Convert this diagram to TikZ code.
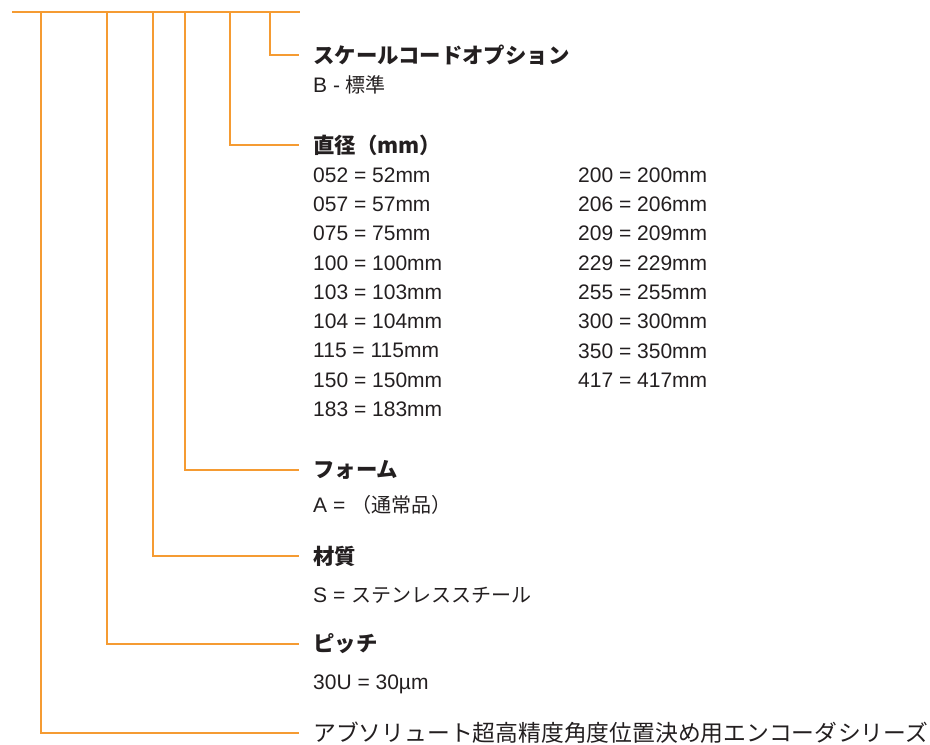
\documentclass[tikz,border=0pt]{standalone}
\usepackage{fontspec}
\setmainfont{Liberation Sans}
\newfontfamily\jp{Noto Sans CJK JP}
\definecolor{lineor}{RGB}{245,155,50}
\definecolor{txt}{RGB}{35,31,32}
\begin{document}
\begin{tikzpicture}[x=1pt,y=-1pt,
  conn/.style={draw=lineor,line width=2.7pt,line join=miter},
  head/.style={anchor=west,inner sep=0pt,font=\jp\bfseries\fontsize{21.4}{22}\selectfont,text=txt},
  body/.style={anchor=west,inner sep=0pt,font=\fontsize{21}{22}\selectfont,text=txt},
  series/.style={anchor=west,inner sep=0pt,font=\jp\fontsize{22.8}{24}\selectfont,text=txt}]
\useasboundingbox (0,0) rectangle (930,745);

% headings and values
\node[head] (h1) at (313,55) {スケールコードオプション};
\node[body] (b1) at (313,85) {B - {\jp\fontsize{20}{22}\selectfont 標準}};
\node[head] (h2) at (313,145) {直径（mm）};
\foreach \t [count=\i from 0] in {052 = 52mm,057 = 57mm,075 = 75mm,100 = 100mm,103 = 103mm,104 = 104mm,115 = 115mm,150 = 150mm,183 = 183mm}
  \node[body] (da\i) at (313,{175+29.3*\i}) {\t};
\foreach \t [count=\i from 0] in {200 = 200mm,206 = 206mm,209 = 209mm,229 = 229mm,255 = 255mm,300 = 300mm,350 = 350mm,417 = 417mm}
  \node[body] (db\i) at (578,{175+29.3*\i}) {\t};
\node[head] (h3) at (313,470) {フォーム};
\node[body] (b3) at (313,505) {A = {\jp\fontsize{20}{22}\selectfont（通常品）}};
\node[head] (h4) at (313,556) {材質};
\node[body] (b4) at (313,595) {S = {\jp\fontsize{20}{22}\selectfont ステンレススチール}};
\node[head] (h5) at (313,644) {ピッチ};
\node[body] (b5) at (313,684) {30U = 30µm};
\node[series] (h6) at (313,733) {アブソリュート超高精度角度位置決め用エンコーダシリーズ};

% connectors
\coordinate (ts) at (12,12);
\coordinate (te) at (300,12);
\draw[conn] (ts) -- (te);
\coordinate (v1) at (41,12);
\coordinate (v2) at (107,12);
\coordinate (v3) at (153,12);
\coordinate (v4) at (185,12);
\coordinate (v5) at (230,12);
\coordinate (v6) at (270,12);
\draw[conn] (v1) |- ([xshift=-14pt]h6.west);
\draw[conn] (v2) |- ([xshift=-14pt]h5.west);
\draw[conn] (v3) |- ([xshift=-14pt]h4.west);
\draw[conn] (v4) |- ([xshift=-14pt]h3.west);
\draw[conn] (v5) |- ([xshift=-14pt]h2.west);
\draw[conn] (v6) |- ([xshift=-14pt]h1.west);
\end{tikzpicture}
\end{document}
